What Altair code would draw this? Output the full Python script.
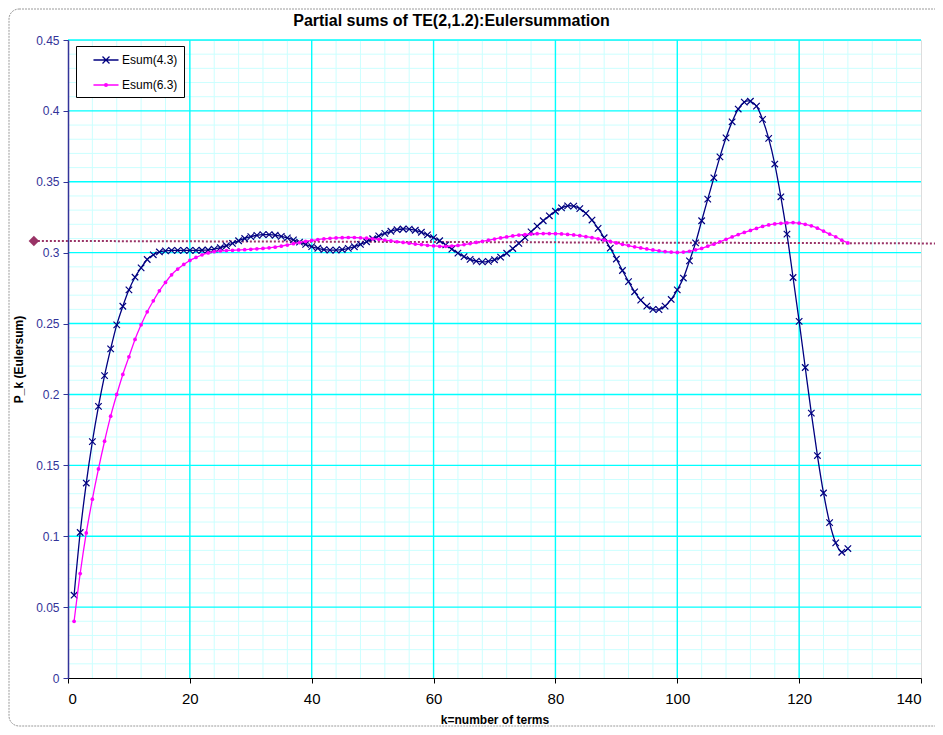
import altair as alt
import pandas as pd

# ---------------- data ----------------
k_terms = list(range(1, 129))

esum_43 = [
    0.0584, 0.1026, 0.1375, 0.1667, 0.1916, 0.2133, 0.2321, 0.2491, 0.2622, 0.2738,
    0.2827, 0.2893, 0.2952, 0.2985, 0.3005, 0.3013, 0.3016, 0.3016, 0.3016, 0.3016,
    0.3016, 0.3017, 0.3019, 0.3025, 0.3035, 0.3049, 0.3066, 0.3084, 0.3100, 0.3113,
    0.3122, 0.3127, 0.3127, 0.3123, 0.3115, 0.3104, 0.3090, 0.3074, 0.3058, 0.3043,
    0.3031, 0.3022, 0.3018, 0.3018, 0.3022, 0.3030, 0.3042, 0.3058, 0.3077, 0.3098,
    0.3118, 0.3136, 0.3151, 0.3162, 0.3167, 0.3166, 0.3158, 0.3144, 0.3126, 0.3106,
    0.3084, 0.3055, 0.3025, 0.2997, 0.2972, 0.2953, 0.2940, 0.2935, 0.2939, 0.2950,
    0.2969, 0.2996, 0.3029, 0.3066, 0.3106, 0.3147, 0.3187, 0.3225, 0.3260, 0.3292,
    0.3316, 0.3330, 0.3328, 0.3311, 0.3277, 0.3230, 0.3171, 0.3105, 0.3032, 0.2955,
    0.2874, 0.2796, 0.2724, 0.2665, 0.2623, 0.2600, 0.2598, 0.2623, 0.2670, 0.2738,
    0.2821, 0.2942, 0.3069, 0.3225, 0.3378, 0.3528, 0.3676, 0.3810, 0.3923, 0.4013,
    0.4062, 0.4068, 0.4034, 0.3940, 0.3806, 0.3625, 0.3394, 0.3131, 0.2825, 0.2515,
    0.2190, 0.1868, 0.1569, 0.1305, 0.1096, 0.0953, 0.0887, 0.0913,
]

esum_63 = [
    0.0400, 0.0737, 0.1023, 0.1261, 0.1475, 0.1670, 0.1847, 0.2000, 0.2141, 0.2265,
    0.2388, 0.2491, 0.2583, 0.2660, 0.2731, 0.2790, 0.2844, 0.2884, 0.2917, 0.2945,
    0.2966, 0.2985, 0.2998, 0.3007, 0.3012, 0.3015, 0.3017, 0.3019, 0.3021, 0.3024,
    0.3027, 0.3030, 0.3034, 0.3039, 0.3046, 0.3054, 0.3063, 0.3071, 0.3079, 0.3086,
    0.3092, 0.3097, 0.3101, 0.3104, 0.3106, 0.3107, 0.3107, 0.3105, 0.3102, 0.3098,
    0.3094, 0.3089, 0.3083, 0.3077, 0.3072, 0.3067, 0.3061, 0.3057, 0.3052, 0.3048,
    0.3045, 0.3045, 0.3047, 0.3051, 0.3057, 0.3064, 0.3072, 0.3080, 0.3088, 0.3096,
    0.3104, 0.3111, 0.3118, 0.3124, 0.3128, 0.3131, 0.3134, 0.3135, 0.3135, 0.3134,
    0.3132, 0.3129, 0.3125, 0.3120, 0.3113, 0.3106, 0.3098, 0.3089, 0.3079, 0.3069,
    0.3059, 0.3050, 0.3041, 0.3033, 0.3026, 0.3019, 0.3013, 0.3008, 0.3004, 0.3002,
    0.3004, 0.3010, 0.3020, 0.3030, 0.3046, 0.3060, 0.3077, 0.3094, 0.3111, 0.3128,
    0.3143, 0.3157, 0.3171, 0.3185, 0.3196, 0.3203, 0.3207, 0.3210, 0.3212, 0.3208,
    0.3200, 0.3189, 0.3173, 0.3152, 0.3131, 0.3112, 0.3088, 0.3069,
]

series_names = ["Esum(4.3)", "Esum(6.3)"]
series_colors = ["#000080", "#FF00FF"]

x_ticks = [0, 20, 40, 60, 80, 100, 120, 140]
y_ticks = [0, 0.05, 0.1, 0.15, 0.2, 0.25, 0.3, 0.35, 0.4, 0.45]

# limit line (with diamond) drawn across the chart
ref_x = [-5.6, 143.7]
ref_y = [0.3083, 0.3065]

title_text = "Partial sums of TE(2,1.2):Eulersummation"
x_title = "k=number of terms"
y_title = "P_k (Eulersum)"

# ---------------- tables ----------------
df = pd.DataFrame({
    "k": k_terms * 2,
    "value": esum_43 + esum_63,
    "series": [series_names[0]] * len(k_terms) + [series_names[1]] * len(k_terms),
})
df43 = df[df.series == series_names[0]]
df63 = df[df.series == series_names[1]]

x_major = pd.DataFrame({"k": x_ticks[1:-1]})
y_major = pd.DataFrame({"value": y_ticks[1:]})
x_minor = pd.DataFrame({"k": [v for v in range(4, 140, 4) if v % 20 != 0]})
y_minor = pd.DataFrame({"value": [i / 100 for i in range(1, 45) if i % 5 != 0]})
ref_df = pd.DataFrame({"k": [ref_x[0]], "k2": [ref_x[1]],
                       "value": [ref_y[0]], "value2": [ref_y[1]]})

FONT = "Liberation Sans"
W, H = 853, 638

xscale = alt.Scale(domain=[0, 140], nice=False, zero=False)
yscale = alt.Scale(domain=[0, 0.45], nice=False, zero=False)

x_axis = alt.Axis(values=x_ticks, grid=False, title=x_title, domainColor="black",
                  domainWidth=1.2, tickColor="black", tickSize=5, labelFontSize=15,
                  labelColor="black", labelFont=FONT, labelPadding=8, titleFont=FONT,
                  titleFontSize=12, titleFontWeight="bold", titleColor="black",
                  titlePadding=8, zindex=1)
y_axis = alt.Axis(values=y_ticks, grid=False, title=y_title, format=".2~f",
                  domainColor="#333399", domainWidth=1.5, tickColor="#333399", tickSize=5,
                  labelFontSize=12, labelColor="#333399", labelFont=FONT, labelPadding=4,
                  titleFont=FONT, titleFontSize=12, titleFontWeight="bold",
                  titleColor="black", titlePadding=10, zindex=1)


def X(field="k"):
    return alt.X(f"{field}:Q", scale=xscale, axis=x_axis)


def Y(field="value"):
    return alt.Y(f"{field}:Q", scale=yscale, axis=y_axis)


# ---------------- layers ----------------
minor_x = alt.Chart(x_minor).mark_rule(color="#CCFFFF", strokeWidth=1).encode(x=X())
minor_y = alt.Chart(y_minor).mark_rule(color="#CCFFFF", strokeWidth=1).encode(y=Y())
major_x = alt.Chart(x_major).mark_rule(color="#00FFFF", strokeWidth=1.4).encode(x=X())
major_y = alt.Chart(y_major).mark_rule(color="#00FFFF", strokeWidth=1.4).encode(y=Y())

border = alt.Chart(ref_df).mark_rect(fill=None, stroke="#9a9a9a", strokeWidth=1,
                                     strokeDash=[2, 1], cornerRadius=10, clip=False).encode(
    x=alt.value(-59), x2=alt.value(900), y=alt.value(-31), y2=alt.value(686))

ref_line = alt.Chart(ref_df).mark_rule(color="#993366", strokeWidth=2, strokeDash=[2, 2],
                                       clip=False).encode(
    x=X(), x2="k2:Q", y=Y(), y2="value2:Q")
ref_diamond = alt.Chart(ref_df).mark_point(shape="diamond", filled=True, size=110,
                                           color="#993366", opacity=1, clip=False).encode(
    x=X(), y=Y())

line43 = alt.Chart(df43).mark_line(interpolate="cardinal", strokeWidth=1.3,
                                   color=series_colors[0]).encode(x=X(), y=Y())
pts43 = alt.Chart(df43).mark_point(shape="M-1,-1L1,1M-1,1L1,-1", filled=False, size=42,
                                   strokeWidth=1.2, opacity=1,
                                   color=series_colors[0]).encode(x=X(), y=Y())
line63 = alt.Chart(df63).mark_line(interpolate="cardinal", strokeWidth=1.3,
                                   color=series_colors[1]).encode(x=X(), y=Y())
pts63 = alt.Chart(df63).mark_circle(size=14, opacity=1,
                                    color=series_colors[1]).encode(x=X(), y=Y())

color_scale = alt.Scale(domain=series_names, range=series_colors)
# symbol unit = 7px (symbolSize 196): line 25px wide, X 7px, dot ~3px
legend_paths = [
    "M-1.79,0L1.79,0M-0.5,-0.5L0.5,0.5M-0.5,0.5L0.5,-0.5",
    "M-1.79,0L1.79,0M-0.2,0A0.2,0.2 0 1,0 0.2,0A0.2,0.2 0 1,0 -0.2,0",
]
legend_def = alt.Legend(title=None, orient="none", legendX=8, legendY=6,
                        fillColor="white", strokeColor="black", padding=6,
                        symbolSize=196, symbolStrokeWidth=1.3, symbolOpacity=1,
                        symbolOffset=16, labelFontSize=12, labelFont=FONT,
                        labelColor="black", labelOffset=8, rowPadding=10)
legend_layer = alt.Chart(df).mark_point(filled=False, opacity=0).encode(
    x=X(), y=Y(),
    color=alt.Color("series:N", scale=color_scale, legend=legend_def),
    shape=alt.Shape("series:N", scale=alt.Scale(domain=series_names, range=legend_paths),
                    legend=legend_def))

chart = alt.layer(
    minor_x, minor_y, major_x, major_y, border, ref_line, ref_diamond,
    line43, pts43, line63, pts63, legend_layer,
).properties(
    width=W, height=H,
    autosize=alt.AutoSizeParams(type="none"),
    padding={"left": 60, "top": 32, "right": 14, "bottom": 49},
    title=alt.TitleParams(text=title_text, font=FONT, fontSize=16, fontWeight="bold",
                          color="black", anchor="middle", dx=-43, offset=-20),
).configure_view(stroke="#6f9f9f", strokeWidth=1.5
).configure(background="white")

chart.save("out.html", embed_options={"renderer": "svg", "actions": False})
